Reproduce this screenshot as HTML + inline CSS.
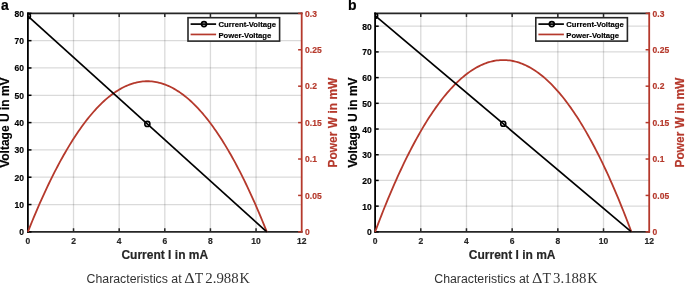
<!DOCTYPE html>
<html><head><meta charset="utf-8"><style>
html,body{margin:0;padding:0;background:#fff;}
body{width:685px;height:284px;overflow:hidden;}
svg{display:block;will-change:transform;}
text.b{stroke-width:0.18px;}
</style></head><body>
<svg width="685" height="284" viewBox="0 0 685 284">

<line x1="73.53" y1="13.35" x2="73.53" y2="231.85" stroke="#262626" stroke-opacity="0.17" stroke-width="1.3"/>
<line x1="119.17" y1="13.35" x2="119.17" y2="231.85" stroke="#262626" stroke-opacity="0.17" stroke-width="1.3"/>
<line x1="164.80" y1="13.35" x2="164.80" y2="231.85" stroke="#262626" stroke-opacity="0.17" stroke-width="1.3"/>
<line x1="210.43" y1="13.35" x2="210.43" y2="231.85" stroke="#262626" stroke-opacity="0.17" stroke-width="1.3"/>
<line x1="256.07" y1="13.35" x2="256.07" y2="231.85" stroke="#262626" stroke-opacity="0.17" stroke-width="1.3"/>
<line x1="27.90" y1="204.54" x2="301.70" y2="204.54" stroke="#262626" stroke-opacity="0.17" stroke-width="1.3"/>
<line x1="27.90" y1="177.22" x2="301.70" y2="177.22" stroke="#262626" stroke-opacity="0.17" stroke-width="1.3"/>
<line x1="27.90" y1="149.91" x2="301.70" y2="149.91" stroke="#262626" stroke-opacity="0.17" stroke-width="1.3"/>
<line x1="27.90" y1="122.60" x2="301.70" y2="122.60" stroke="#262626" stroke-opacity="0.17" stroke-width="1.3"/>
<line x1="27.90" y1="95.29" x2="301.70" y2="95.29" stroke="#262626" stroke-opacity="0.17" stroke-width="1.3"/>
<line x1="27.90" y1="67.97" x2="301.70" y2="67.97" stroke="#262626" stroke-opacity="0.17" stroke-width="1.3"/>
<line x1="27.90" y1="40.66" x2="301.70" y2="40.66" stroke="#262626" stroke-opacity="0.17" stroke-width="1.3"/>
<path d="M27.90,13.35 L301.70,13.35 M27.90,231.85 L301.70,231.85" fill="none" stroke="#262626" stroke-width="1.7" stroke-linecap="square"/>
<path d="M27.90,231.85 L27.90,13.35" fill="none" stroke="#000000" stroke-width="1.8" stroke-linecap="square"/>
<line x1="73.53" y1="231.85" x2="73.53" y2="228.25" stroke="#262626" stroke-width="1.5"/>
<line x1="73.53" y1="13.35" x2="73.53" y2="16.95" stroke="#262626" stroke-width="1.5"/>
<line x1="119.17" y1="231.85" x2="119.17" y2="228.25" stroke="#262626" stroke-width="1.5"/>
<line x1="119.17" y1="13.35" x2="119.17" y2="16.95" stroke="#262626" stroke-width="1.5"/>
<line x1="164.80" y1="231.85" x2="164.80" y2="228.25" stroke="#262626" stroke-width="1.5"/>
<line x1="164.80" y1="13.35" x2="164.80" y2="16.95" stroke="#262626" stroke-width="1.5"/>
<line x1="210.43" y1="231.85" x2="210.43" y2="228.25" stroke="#262626" stroke-width="1.5"/>
<line x1="210.43" y1="13.35" x2="210.43" y2="16.95" stroke="#262626" stroke-width="1.5"/>
<line x1="256.07" y1="231.85" x2="256.07" y2="228.25" stroke="#262626" stroke-width="1.5"/>
<line x1="256.07" y1="13.35" x2="256.07" y2="16.95" stroke="#262626" stroke-width="1.5"/>
<line x1="27.90" y1="231.85" x2="31.50" y2="231.85" stroke="#000000" stroke-width="1.5"/>
<line x1="27.90" y1="204.54" x2="31.50" y2="204.54" stroke="#000000" stroke-width="1.5"/>
<line x1="27.90" y1="177.22" x2="31.50" y2="177.22" stroke="#000000" stroke-width="1.5"/>
<line x1="27.90" y1="149.91" x2="31.50" y2="149.91" stroke="#000000" stroke-width="1.5"/>
<line x1="27.90" y1="122.60" x2="31.50" y2="122.60" stroke="#000000" stroke-width="1.5"/>
<line x1="27.90" y1="95.29" x2="31.50" y2="95.29" stroke="#000000" stroke-width="1.5"/>
<line x1="27.90" y1="67.97" x2="31.50" y2="67.97" stroke="#000000" stroke-width="1.5"/>
<line x1="27.90" y1="40.66" x2="31.50" y2="40.66" stroke="#000000" stroke-width="1.5"/>
<line x1="27.90" y1="13.35" x2="31.50" y2="13.35" stroke="#000000" stroke-width="1.5"/>
<line x1="301.70" y1="13.35" x2="301.70" y2="231.85" stroke="#b5392c" stroke-width="1.8" stroke-linecap="square"/>
<line x1="301.70" y1="231.85" x2="298.10" y2="231.85" stroke="#b5392c" stroke-width="1.5"/>
<line x1="301.70" y1="195.43" x2="298.10" y2="195.43" stroke="#b5392c" stroke-width="1.5"/>
<line x1="301.70" y1="159.02" x2="298.10" y2="159.02" stroke="#b5392c" stroke-width="1.5"/>
<line x1="301.70" y1="122.60" x2="298.10" y2="122.60" stroke="#b5392c" stroke-width="1.5"/>
<line x1="301.70" y1="86.18" x2="298.10" y2="86.18" stroke="#b5392c" stroke-width="1.5"/>
<line x1="301.70" y1="49.77" x2="298.10" y2="49.77" stroke="#b5392c" stroke-width="1.5"/>
<line x1="301.70" y1="13.35" x2="298.10" y2="13.35" stroke="#b5392c" stroke-width="1.5"/>
<polyline points="27.90,231.85 29.39,228.11 30.89,224.41 32.38,220.77 33.87,217.17 35.37,213.61 36.86,210.11 38.35,206.65 39.84,203.23 41.34,199.87 42.83,196.55 44.32,193.28 45.82,190.06 47.31,186.88 48.80,183.75 50.30,180.67 51.79,177.63 53.28,174.64 54.78,171.70 56.27,168.81 57.76,165.96 59.25,163.16 60.75,160.41 62.24,157.70 63.73,155.04 65.23,152.43 66.72,149.86 68.21,147.35 69.71,144.87 71.20,142.45 72.69,140.07 74.19,137.74 75.68,135.46 77.17,133.23 78.66,131.04 80.16,128.90 81.65,126.80 83.14,124.75 84.64,122.75 86.13,120.80 87.62,118.90 89.12,117.04 90.61,115.22 92.10,113.46 93.59,111.74 95.09,110.07 96.58,108.45 98.07,106.87 99.57,105.34 101.06,103.86 102.55,102.42 104.05,101.03 105.54,99.69 107.03,98.40 108.53,97.15 110.02,95.95 111.51,94.80 113.00,93.69 114.50,92.63 115.99,91.62 117.48,90.66 118.98,89.74 120.47,88.87 121.96,88.04 123.46,87.27 124.95,86.54 126.44,85.86 127.94,85.22 129.43,84.63 130.92,84.09 132.41,83.60 133.91,83.15 135.40,82.75 136.89,82.40 138.39,82.09 139.88,81.83 141.37,81.62 142.87,81.46 144.36,81.34 145.85,81.27 147.35,81.24 148.84,81.27 150.33,81.34 151.82,81.46 153.32,81.62 154.81,81.83 156.30,82.09 157.80,82.40 159.29,82.75 160.78,83.15 162.28,83.60 163.77,84.09 165.26,84.63 166.76,85.22 168.25,85.86 169.74,86.54 171.23,87.27 172.73,88.04 174.22,88.87 175.71,89.74 177.21,90.66 178.70,91.62 180.19,92.63 181.69,93.69 183.18,94.80 184.67,95.95 186.16,97.15 187.66,98.40 189.15,99.69 190.64,101.03 192.14,102.42 193.63,103.86 195.12,105.34 196.62,106.87 198.11,108.45 199.60,110.07 201.10,111.74 202.59,113.46 204.08,115.22 205.57,117.04 207.07,118.90 208.56,120.80 210.05,122.75 211.55,124.75 213.04,126.80 214.53,128.90 216.03,131.04 217.52,133.23 219.01,135.46 220.51,137.74 222.00,140.07 223.49,142.45 224.98,144.87 226.48,147.35 227.97,149.86 229.46,152.43 230.96,155.04 232.45,157.70 233.94,160.41 235.44,163.16 236.93,165.96 238.42,168.81 239.92,171.70 241.41,174.64 242.90,177.63 244.39,180.67 245.89,183.75 247.38,186.88 248.87,190.06 250.37,193.28 251.86,196.55 253.35,199.87 254.85,203.23 256.34,206.65 257.83,210.11 259.33,213.61 260.82,217.17 262.31,220.77 263.80,224.41 265.30,228.11 266.79,231.85" fill="none" stroke="#b5392c" stroke-width="1.8"/>
<line x1="27.90" y1="16.08" x2="266.79" y2="231.85" stroke="#000000" stroke-width="1.7"/>
<clipPath id="ca"><rect x="27.90" y="13.35" width="273.80" height="218.50"/></clipPath>
<g clip-path="url(#ca)">
<circle cx="27.90" cy="16.08" r="2.55" fill="none" stroke="#000000" stroke-width="1.6"/>
<circle cx="147.35" cy="123.97" r="2.55" fill="none" stroke="#000000" stroke-width="1.6"/>
</g>
<text stroke="#262626" x="27.90" y="244.25" font-family="Liberation Sans" font-weight="bold" class="b" font-size="8.5" text-anchor="middle" fill="#262626">0</text>
<text stroke="#262626" x="73.53" y="244.25" font-family="Liberation Sans" font-weight="bold" class="b" font-size="8.5" text-anchor="middle" fill="#262626">2</text>
<text stroke="#262626" x="119.17" y="244.25" font-family="Liberation Sans" font-weight="bold" class="b" font-size="8.5" text-anchor="middle" fill="#262626">4</text>
<text stroke="#262626" x="164.80" y="244.25" font-family="Liberation Sans" font-weight="bold" class="b" font-size="8.5" text-anchor="middle" fill="#262626">6</text>
<text stroke="#262626" x="210.43" y="244.25" font-family="Liberation Sans" font-weight="bold" class="b" font-size="8.5" text-anchor="middle" fill="#262626">8</text>
<text stroke="#262626" x="256.07" y="244.25" font-family="Liberation Sans" font-weight="bold" class="b" font-size="8.5" text-anchor="middle" fill="#262626">10</text>
<text stroke="#262626" x="301.70" y="244.25" font-family="Liberation Sans" font-weight="bold" class="b" font-size="8.5" text-anchor="middle" fill="#262626">12</text>
<text stroke="#000" x="23.90" y="235.35" font-family="Liberation Sans" font-weight="bold" class="b" font-size="8.5" text-anchor="end" fill="#000">0</text>
<text stroke="#000" x="23.90" y="208.04" font-family="Liberation Sans" font-weight="bold" class="b" font-size="8.5" text-anchor="end" fill="#000">10</text>
<text stroke="#000" x="23.90" y="180.72" font-family="Liberation Sans" font-weight="bold" class="b" font-size="8.5" text-anchor="end" fill="#000">20</text>
<text stroke="#000" x="23.90" y="153.41" font-family="Liberation Sans" font-weight="bold" class="b" font-size="8.5" text-anchor="end" fill="#000">30</text>
<text stroke="#000" x="23.90" y="126.10" font-family="Liberation Sans" font-weight="bold" class="b" font-size="8.5" text-anchor="end" fill="#000">40</text>
<text stroke="#000" x="23.90" y="98.79" font-family="Liberation Sans" font-weight="bold" class="b" font-size="8.5" text-anchor="end" fill="#000">50</text>
<text stroke="#000" x="23.90" y="71.47" font-family="Liberation Sans" font-weight="bold" class="b" font-size="8.5" text-anchor="end" fill="#000">60</text>
<text stroke="#000" x="23.90" y="44.16" font-family="Liberation Sans" font-weight="bold" class="b" font-size="8.5" text-anchor="end" fill="#000">70</text>
<text stroke="#000" x="23.90" y="16.85" font-family="Liberation Sans" font-weight="bold" class="b" font-size="8.5" text-anchor="end" fill="#000">80</text>
<text stroke="#b5392c" x="305.10" y="235.05" font-family="Liberation Sans" font-weight="bold" class="b" font-size="8.5" fill="#b5392c">0</text>
<text stroke="#b5392c" x="305.10" y="198.63" font-family="Liberation Sans" font-weight="bold" class="b" font-size="8.5" fill="#b5392c">0.05</text>
<text stroke="#b5392c" x="305.10" y="162.22" font-family="Liberation Sans" font-weight="bold" class="b" font-size="8.5" fill="#b5392c">0.1</text>
<text stroke="#b5392c" x="305.10" y="125.80" font-family="Liberation Sans" font-weight="bold" class="b" font-size="8.5" fill="#b5392c">0.15</text>
<text stroke="#b5392c" x="305.10" y="89.38" font-family="Liberation Sans" font-weight="bold" class="b" font-size="8.5" fill="#b5392c">0.2</text>
<text stroke="#b5392c" x="305.10" y="52.97" font-family="Liberation Sans" font-weight="bold" class="b" font-size="8.5" fill="#b5392c">0.25</text>
<text stroke="#b5392c" x="305.10" y="16.55" font-family="Liberation Sans" font-weight="bold" class="b" font-size="8.5" fill="#b5392c">0.3</text>
<text stroke="#262626" x="164.80" y="259.15" font-family="Liberation Sans" font-weight="bold" class="b" font-size="12" text-anchor="middle" fill="#262626">Current I in mA</text>
<text stroke="#000" transform="translate(8.90,122.60) rotate(-90)" x="0" y="0" font-family="Liberation Sans" font-weight="bold" class="b" font-size="12" text-anchor="middle" fill="#000">Voltage U in mV</text>
<text stroke="#b5392c" transform="translate(337.30,122.60) rotate(-90)" x="0" y="0" font-family="Liberation Sans" font-weight="bold" class="b" font-size="12" text-anchor="middle" fill="#b5392c">Power W in mW</text>
<rect x="188.00" y="17.70" width="91.60" height="23.40" fill="#fff" stroke="#262626" stroke-width="1.6"/>
<line x1="190.60" y1="24.1" x2="216.10" y2="24.1" stroke="#000000" stroke-width="1.7"/>
<circle cx="204.00" cy="24.1" r="2.5" fill="none" stroke="#000000" stroke-width="1.7"/>
<line x1="190.60" y1="34.45" x2="216.10" y2="34.45" stroke="#b5392c" stroke-width="1.7"/>
<text x="218.50" y="27.4" font-family="Liberation Sans" font-weight="bold" class="b" font-size="7.9" fill="#000" stroke="#000" stroke-width="0.2" textLength="57.5" lengthAdjust="spacingAndGlyphs">Current-Voltage</text>
<text x="218.50" y="37.6" font-family="Liberation Sans" font-weight="bold" class="b" font-size="7.9" fill="#000" stroke="#000" stroke-width="0.2" textLength="52.8" lengthAdjust="spacingAndGlyphs">Power-Voltage</text>
<text stroke="#000" x="1.00" y="9.8" font-family="Liberation Sans" font-weight="bold" class="b" font-size="14" fill="#000">a</text>
<text x="86.60" y="282.5" font-family="Liberation Sans" font-size="12.3" fill="#333">Characteristics at</text>
<text x="184.20" y="283.3" font-family="Liberation Serif" font-size="13.8" fill="#333" textLength="10.4" lengthAdjust="spacingAndGlyphs">Δ</text>
<text x="194.70" y="283.3" font-family="Liberation Serif" font-size="13.8" fill="#333">T</text>
<text x="205.30" y="283.3" font-family="Liberation Serif" font-size="13.8" fill="#333" textLength="33.4" lengthAdjust="spacingAndGlyphs">2.988</text>
<text x="239.50" y="283.3" font-family="Liberation Serif" font-size="13.8" fill="#333" textLength="10.3" lengthAdjust="spacingAndGlyphs">K</text>
<line x1="420.78" y1="13.35" x2="420.78" y2="231.85" stroke="#262626" stroke-opacity="0.17" stroke-width="1.3"/>
<line x1="466.47" y1="13.35" x2="466.47" y2="231.85" stroke="#262626" stroke-opacity="0.17" stroke-width="1.3"/>
<line x1="512.15" y1="13.35" x2="512.15" y2="231.85" stroke="#262626" stroke-opacity="0.17" stroke-width="1.3"/>
<line x1="557.83" y1="13.35" x2="557.83" y2="231.85" stroke="#262626" stroke-opacity="0.17" stroke-width="1.3"/>
<line x1="603.52" y1="13.35" x2="603.52" y2="231.85" stroke="#262626" stroke-opacity="0.17" stroke-width="1.3"/>
<line x1="375.10" y1="206.14" x2="649.20" y2="206.14" stroke="#262626" stroke-opacity="0.17" stroke-width="1.3"/>
<line x1="375.10" y1="180.44" x2="649.20" y2="180.44" stroke="#262626" stroke-opacity="0.17" stroke-width="1.3"/>
<line x1="375.10" y1="154.73" x2="649.20" y2="154.73" stroke="#262626" stroke-opacity="0.17" stroke-width="1.3"/>
<line x1="375.10" y1="129.03" x2="649.20" y2="129.03" stroke="#262626" stroke-opacity="0.17" stroke-width="1.3"/>
<line x1="375.10" y1="103.32" x2="649.20" y2="103.32" stroke="#262626" stroke-opacity="0.17" stroke-width="1.3"/>
<line x1="375.10" y1="77.61" x2="649.20" y2="77.61" stroke="#262626" stroke-opacity="0.17" stroke-width="1.3"/>
<line x1="375.10" y1="51.91" x2="649.20" y2="51.91" stroke="#262626" stroke-opacity="0.17" stroke-width="1.3"/>
<line x1="375.10" y1="26.20" x2="649.20" y2="26.20" stroke="#262626" stroke-opacity="0.17" stroke-width="1.3"/>
<path d="M375.10,13.35 L649.20,13.35 M375.10,231.85 L649.20,231.85" fill="none" stroke="#262626" stroke-width="1.7" stroke-linecap="square"/>
<path d="M375.10,231.85 L375.10,13.35" fill="none" stroke="#000000" stroke-width="1.8" stroke-linecap="square"/>
<line x1="420.78" y1="231.85" x2="420.78" y2="228.25" stroke="#262626" stroke-width="1.5"/>
<line x1="420.78" y1="13.35" x2="420.78" y2="16.95" stroke="#262626" stroke-width="1.5"/>
<line x1="466.47" y1="231.85" x2="466.47" y2="228.25" stroke="#262626" stroke-width="1.5"/>
<line x1="466.47" y1="13.35" x2="466.47" y2="16.95" stroke="#262626" stroke-width="1.5"/>
<line x1="512.15" y1="231.85" x2="512.15" y2="228.25" stroke="#262626" stroke-width="1.5"/>
<line x1="512.15" y1="13.35" x2="512.15" y2="16.95" stroke="#262626" stroke-width="1.5"/>
<line x1="557.83" y1="231.85" x2="557.83" y2="228.25" stroke="#262626" stroke-width="1.5"/>
<line x1="557.83" y1="13.35" x2="557.83" y2="16.95" stroke="#262626" stroke-width="1.5"/>
<line x1="603.52" y1="231.85" x2="603.52" y2="228.25" stroke="#262626" stroke-width="1.5"/>
<line x1="603.52" y1="13.35" x2="603.52" y2="16.95" stroke="#262626" stroke-width="1.5"/>
<line x1="375.10" y1="231.85" x2="378.70" y2="231.85" stroke="#000000" stroke-width="1.5"/>
<line x1="375.10" y1="206.14" x2="378.70" y2="206.14" stroke="#000000" stroke-width="1.5"/>
<line x1="375.10" y1="180.44" x2="378.70" y2="180.44" stroke="#000000" stroke-width="1.5"/>
<line x1="375.10" y1="154.73" x2="378.70" y2="154.73" stroke="#000000" stroke-width="1.5"/>
<line x1="375.10" y1="129.03" x2="378.70" y2="129.03" stroke="#000000" stroke-width="1.5"/>
<line x1="375.10" y1="103.32" x2="378.70" y2="103.32" stroke="#000000" stroke-width="1.5"/>
<line x1="375.10" y1="77.61" x2="378.70" y2="77.61" stroke="#000000" stroke-width="1.5"/>
<line x1="375.10" y1="51.91" x2="378.70" y2="51.91" stroke="#000000" stroke-width="1.5"/>
<line x1="375.10" y1="26.20" x2="378.70" y2="26.20" stroke="#000000" stroke-width="1.5"/>
<line x1="649.20" y1="13.35" x2="649.20" y2="231.85" stroke="#b5392c" stroke-width="1.8" stroke-linecap="square"/>
<line x1="649.20" y1="231.85" x2="645.60" y2="231.85" stroke="#b5392c" stroke-width="1.5"/>
<line x1="649.20" y1="195.43" x2="645.60" y2="195.43" stroke="#b5392c" stroke-width="1.5"/>
<line x1="649.20" y1="159.02" x2="645.60" y2="159.02" stroke="#b5392c" stroke-width="1.5"/>
<line x1="649.20" y1="122.60" x2="645.60" y2="122.60" stroke="#b5392c" stroke-width="1.5"/>
<line x1="649.20" y1="86.18" x2="645.60" y2="86.18" stroke="#b5392c" stroke-width="1.5"/>
<line x1="649.20" y1="49.77" x2="645.60" y2="49.77" stroke="#b5392c" stroke-width="1.5"/>
<line x1="649.20" y1="13.35" x2="645.60" y2="13.35" stroke="#b5392c" stroke-width="1.5"/>
<polyline points="375.10,231.85 376.70,227.58 378.30,223.37 379.91,219.21 381.51,215.10 383.11,211.04 384.71,207.04 386.31,203.10 387.91,199.21 389.52,195.37 391.12,191.58 392.72,187.85 394.32,184.17 395.92,180.55 397.52,176.98 399.13,173.46 400.73,170.00 402.33,166.59 403.93,163.23 405.53,159.93 407.14,156.68 408.74,153.49 410.34,150.35 411.94,147.26 413.54,144.22 415.14,141.24 416.75,138.32 418.35,135.45 419.95,132.63 421.55,129.86 423.15,127.15 424.75,124.49 426.36,121.89 427.96,119.34 429.56,116.84 431.16,114.40 432.76,112.01 434.37,109.67 435.97,107.39 437.57,105.16 439.17,102.99 440.77,100.87 442.37,98.80 443.98,96.79 445.58,94.83 447.18,92.92 448.78,91.07 450.38,89.27 451.99,87.53 453.59,85.83 455.19,84.20 456.79,82.61 458.39,81.08 459.99,79.61 461.60,78.18 463.20,76.81 464.80,75.50 466.40,74.24 468.00,73.03 469.60,71.87 471.21,70.77 472.81,69.73 474.41,68.73 476.01,67.79 477.61,66.91 479.22,66.08 480.82,65.30 482.42,64.57 484.02,63.90 485.62,63.28 487.22,62.72 488.83,62.21 490.43,61.75 492.03,61.35 493.63,61.00 495.23,60.71 496.83,60.47 498.44,60.28 500.04,60.14 501.64,60.06 503.24,60.04 504.84,60.06 506.45,60.14 508.05,60.28 509.65,60.47 511.25,60.71 512.85,61.00 514.45,61.35 516.06,61.75 517.66,62.21 519.26,62.72 520.86,63.28 522.46,63.90 524.06,64.57 525.67,65.30 527.27,66.08 528.87,66.91 530.47,67.79 532.07,68.73 533.68,69.73 535.28,70.77 536.88,71.87 538.48,73.03 540.08,74.24 541.68,75.50 543.29,76.81 544.89,78.18 546.49,79.61 548.09,81.08 549.69,82.61 551.29,84.20 552.90,85.83 554.50,87.53 556.10,89.27 557.70,91.07 559.30,92.92 560.91,94.83 562.51,96.79 564.11,98.80 565.71,100.87 567.31,102.99 568.91,105.16 570.52,107.39 572.12,109.67 573.72,112.01 575.32,114.40 576.92,116.84 578.53,119.34 580.13,121.89 581.73,124.49 583.33,127.15 584.93,129.86 586.53,132.63 588.14,135.45 589.74,138.32 591.34,141.24 592.94,144.22 594.54,147.26 596.14,150.35 597.75,153.49 599.35,156.68 600.95,159.93 602.55,163.23 604.15,166.59 605.76,170.00 607.36,173.46 608.96,176.98 610.56,180.55 612.16,184.17 613.76,187.85 615.37,191.58 616.97,195.37 618.57,199.21 620.17,203.10 621.77,207.04 623.37,211.04 624.98,215.10 626.58,219.21 628.18,223.37 629.78,227.58 631.38,231.85" fill="none" stroke="#b5392c" stroke-width="1.8"/>
<line x1="375.10" y1="15.66" x2="631.38" y2="231.85" stroke="#000000" stroke-width="1.7"/>
<clipPath id="cb"><rect x="375.10" y="13.35" width="274.10" height="218.50"/></clipPath>
<g clip-path="url(#cb)">
<circle cx="375.10" cy="15.66" r="2.55" fill="none" stroke="#000000" stroke-width="1.6"/>
<circle cx="503.24" cy="123.76" r="2.55" fill="none" stroke="#000000" stroke-width="1.6"/>
</g>
<text stroke="#262626" x="375.10" y="244.25" font-family="Liberation Sans" font-weight="bold" class="b" font-size="8.5" text-anchor="middle" fill="#262626">0</text>
<text stroke="#262626" x="420.78" y="244.25" font-family="Liberation Sans" font-weight="bold" class="b" font-size="8.5" text-anchor="middle" fill="#262626">2</text>
<text stroke="#262626" x="466.47" y="244.25" font-family="Liberation Sans" font-weight="bold" class="b" font-size="8.5" text-anchor="middle" fill="#262626">4</text>
<text stroke="#262626" x="512.15" y="244.25" font-family="Liberation Sans" font-weight="bold" class="b" font-size="8.5" text-anchor="middle" fill="#262626">6</text>
<text stroke="#262626" x="557.83" y="244.25" font-family="Liberation Sans" font-weight="bold" class="b" font-size="8.5" text-anchor="middle" fill="#262626">8</text>
<text stroke="#262626" x="603.52" y="244.25" font-family="Liberation Sans" font-weight="bold" class="b" font-size="8.5" text-anchor="middle" fill="#262626">10</text>
<text stroke="#262626" x="649.20" y="244.25" font-family="Liberation Sans" font-weight="bold" class="b" font-size="8.5" text-anchor="middle" fill="#262626">12</text>
<text stroke="#000" x="371.80" y="235.35" font-family="Liberation Sans" font-weight="bold" class="b" font-size="8.5" text-anchor="end" fill="#000">0</text>
<text stroke="#000" x="371.80" y="209.64" font-family="Liberation Sans" font-weight="bold" class="b" font-size="8.5" text-anchor="end" fill="#000">10</text>
<text stroke="#000" x="371.80" y="183.94" font-family="Liberation Sans" font-weight="bold" class="b" font-size="8.5" text-anchor="end" fill="#000">20</text>
<text stroke="#000" x="371.80" y="158.23" font-family="Liberation Sans" font-weight="bold" class="b" font-size="8.5" text-anchor="end" fill="#000">30</text>
<text stroke="#000" x="371.80" y="132.53" font-family="Liberation Sans" font-weight="bold" class="b" font-size="8.5" text-anchor="end" fill="#000">40</text>
<text stroke="#000" x="371.80" y="106.82" font-family="Liberation Sans" font-weight="bold" class="b" font-size="8.5" text-anchor="end" fill="#000">50</text>
<text stroke="#000" x="371.80" y="81.11" font-family="Liberation Sans" font-weight="bold" class="b" font-size="8.5" text-anchor="end" fill="#000">60</text>
<text stroke="#000" x="371.80" y="55.41" font-family="Liberation Sans" font-weight="bold" class="b" font-size="8.5" text-anchor="end" fill="#000">70</text>
<text stroke="#000" x="371.80" y="29.70" font-family="Liberation Sans" font-weight="bold" class="b" font-size="8.5" text-anchor="end" fill="#000">80</text>
<text stroke="#b5392c" x="652.60" y="235.05" font-family="Liberation Sans" font-weight="bold" class="b" font-size="8.5" fill="#b5392c">0</text>
<text stroke="#b5392c" x="652.60" y="198.63" font-family="Liberation Sans" font-weight="bold" class="b" font-size="8.5" fill="#b5392c">0.05</text>
<text stroke="#b5392c" x="652.60" y="162.22" font-family="Liberation Sans" font-weight="bold" class="b" font-size="8.5" fill="#b5392c">0.1</text>
<text stroke="#b5392c" x="652.60" y="125.80" font-family="Liberation Sans" font-weight="bold" class="b" font-size="8.5" fill="#b5392c">0.15</text>
<text stroke="#b5392c" x="652.60" y="89.38" font-family="Liberation Sans" font-weight="bold" class="b" font-size="8.5" fill="#b5392c">0.2</text>
<text stroke="#b5392c" x="652.60" y="52.97" font-family="Liberation Sans" font-weight="bold" class="b" font-size="8.5" fill="#b5392c">0.25</text>
<text stroke="#b5392c" x="652.60" y="16.55" font-family="Liberation Sans" font-weight="bold" class="b" font-size="8.5" fill="#b5392c">0.3</text>
<text stroke="#262626" x="512.15" y="259.15" font-family="Liberation Sans" font-weight="bold" class="b" font-size="12" text-anchor="middle" fill="#262626">Current I in mA</text>
<text stroke="#000" transform="translate(357.20,122.60) rotate(-90)" x="0" y="0" font-family="Liberation Sans" font-weight="bold" class="b" font-size="12" text-anchor="middle" fill="#000">Voltage U in mV</text>
<text stroke="#b5392c" transform="translate(684.10,122.60) rotate(-90)" x="0" y="0" font-family="Liberation Sans" font-weight="bold" class="b" font-size="12" text-anchor="middle" fill="#b5392c">Power W in mW</text>
<rect x="535.80" y="17.70" width="91.60" height="23.40" fill="#fff" stroke="#262626" stroke-width="1.6"/>
<line x1="538.40" y1="24.1" x2="563.90" y2="24.1" stroke="#000000" stroke-width="1.7"/>
<circle cx="551.80" cy="24.1" r="2.5" fill="none" stroke="#000000" stroke-width="1.7"/>
<line x1="538.40" y1="34.45" x2="563.90" y2="34.45" stroke="#b5392c" stroke-width="1.7"/>
<text x="566.30" y="27.4" font-family="Liberation Sans" font-weight="bold" class="b" font-size="7.9" fill="#000" stroke="#000" stroke-width="0.2" textLength="57.5" lengthAdjust="spacingAndGlyphs">Current-Voltage</text>
<text x="566.30" y="37.6" font-family="Liberation Sans" font-weight="bold" class="b" font-size="7.9" fill="#000" stroke="#000" stroke-width="0.2" textLength="52.8" lengthAdjust="spacingAndGlyphs">Power-Voltage</text>
<text stroke="#000" x="348.00" y="9.8" font-family="Liberation Sans" font-weight="bold" class="b" font-size="14" fill="#000">b</text>
<text x="434.30" y="282.5" font-family="Liberation Sans" font-size="12.3" fill="#333">Characteristics at</text>
<text x="531.90" y="283.3" font-family="Liberation Serif" font-size="13.8" fill="#333" textLength="10.4" lengthAdjust="spacingAndGlyphs">Δ</text>
<text x="542.40" y="283.3" font-family="Liberation Serif" font-size="13.8" fill="#333">T</text>
<text x="553.00" y="283.3" font-family="Liberation Serif" font-size="13.8" fill="#333" textLength="33.4" lengthAdjust="spacingAndGlyphs">3.188</text>
<text x="587.20" y="283.3" font-family="Liberation Serif" font-size="13.8" fill="#333" textLength="10.3" lengthAdjust="spacingAndGlyphs">K</text>
</svg>
</body></html>
